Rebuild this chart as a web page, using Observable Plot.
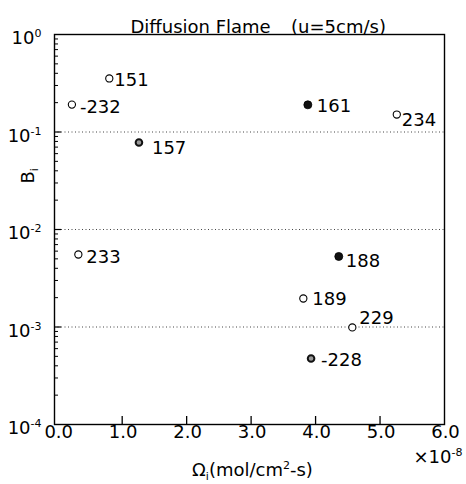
<!DOCTYPE html>
<html><head><meta charset="utf-8">
<script src="https://cdn.jsdelivr.net/npm/d3@7"></script>
<script src="https://cdn.jsdelivr.net/npm/@observablehq/plot@0.6"></script>
<style>body{margin:0;background:#fff}</style>
</head><body><div id="chart"></div>
<script>
// ---- data ----
const species    = ["151", "-232", "157", "161", "234", "233", "188", "189", "229", "-228"];
const omega      = [0.80, 0.22, 1.26, 3.88, 5.26, 0.32, 4.36, 3.81, 4.57, 3.93];       // ×10^-8 mol/cm2-s
const B          = [0.354, 0.191, 0.078, 0.19, 0.151, 0.00554, 0.00529, 0.00196, 0.00099, 0.000475];
const markerType = ["open", "open", "dotted", "filled", "open", "open", "filled", "open", "open", "dotted"];
const xTickValues = [0, 1, 2, 3, 4, 5, 6];
const xTickLabels = ["0.0", "1.0", "2.0", "3.0", "4.0", "5.0", "6.0"];
const yDecades    = [1e-4, 1e-3, 1e-2, 1e-1, 1];
const yTickLabels = ["10^{-4}", "10^{-3}", "10^{-2}", "10^{-1}", "10^{0}"];
// label nudges (style only)
const labelDx = [5, 8, 13, 9, 5, 8, 7, 9, 7, 10];
const labelDy = [2, 3, 6, 1, 6, 3, 5, 1, -9, 2];

const data = species.map((s, i) => ({s, x: omega[i], y: B[i], t: markerType[i], dx: labelDx[i], dy: labelDy[i]}));
const yMinor = [];
for (let k = 0; k < 4; k++) for (let m = 2; m <= 9; m++) yMinor.push(m * yDecades[k]);

const W = 466, H = 484, ML = 54, MR = 22, MT = 34, MB = 60;
const FW = W - ML - MR, FH = H - MT - MB;
const font = "DejaVu Sans, Verdana, sans-serif";
const FS = 18;

const plot = Plot.plot({
  width: W, height: H,
  marginLeft: ML, marginRight: MR, marginTop: MT, marginBottom: MB,
  style: {fontFamily: font, background: "white", color: "black"},
  x: {domain: [-0.05, 6], axis: null},
  y: {type: "log", domain: [1e-4, 1], axis: null},
  marks: [
    Plot.ruleY(yDecades.slice(1, 4), {stroke: "#444", strokeDasharray: "1,2.5", strokeWidth: 1}),
    Plot.tickX(xTickValues.slice(1, 6), {x: d => d, insetTop: FH - 8, stroke: "black", strokeWidth: 1.3}),
    Plot.tickY(yMinor, {y: d => d, insetRight: FW - 4, stroke: "black", strokeWidth: 1}),
    Plot.tickY(yDecades.slice(1, 4), {y: d => d, insetRight: FW - 7, stroke: "black", strokeWidth: 1.2}),
    Plot.frame({stroke: "black", strokeWidth: 1.4}),
    Plot.dot(data.filter(d => d.t === "open"), {x: "x", y: "y", r: 3.6, stroke: "black", strokeWidth: 1.1, fill: "white"}),
    Plot.dot(data.filter(d => d.t === "filled"), {x: "x", y: "y", r: 4, stroke: "black", strokeWidth: 0.8, fill: "#111"}),
    Plot.dot(data.filter(d => d.t === "dotted"), {x: "x", y: "y", r: 3.3, stroke: "#111", strokeWidth: 2, fill: "#999"}),
    ...data.map(d => Plot.text([d], {x: "x", y: "y", text: "s", dx: d.dx, dy: d.dy, textAnchor: "start", fontSize: FS, fill: "black"})),
    // x tick labels
    Plot.text(xTickValues, {x: d => d, text: (d, i) => xTickLabels[i], frameAnchor: "bottom", dx: 1, dy: 13, fontSize: FS, fill: "black"}),
    Plot.text(["\u00D710^{-8}"], {frameAnchor: "bottom-right", dx: 18, dy: 38, textAnchor: "end", fontSize: FS, fill: "black"}),
    // y tick labels
    Plot.text(yDecades, {y: d => d, text: (d, i) => yTickLabels[i], frameAnchor: "left", dx: -13, dy: 4, textAnchor: "end", fontSize: FS, fill: "black"}),
    // axis titles
    Plot.text(["\u03A9_{i}(mol/cm^{2}-s)"], {frameAnchor: "bottom", dx: 3, dy: 51, fontSize: FS, fill: "black"}),
    Plot.text(["B_{i}"], {frameAnchor: "top-left", dx: -33, dy: 149, rotate: -90, fontSize: FS, fill: "black"}),
    // title
    Plot.text(["Diffusion Flame"], {frameAnchor: "top-left", dx: 76, dy: -14, textAnchor: "start", fontSize: FS, fill: "black"}),
    Plot.text(["(u=5cm/s)"], {frameAnchor: "top-left", dx: 284, dy: -14, textAnchor: "middle", fontSize: FS, fill: "black"})
  ]
});

// rich text: ^{..} superscript, _{..} subscript
d3.select(plot).selectAll("text").each(function () {
  const s = this.textContent;
  if (!/[\^_]\{/.test(s)) return;
  const re = /([\^_])\{([^}]*)\}|([^\^_]+)/g;
  const el = d3.select(this);
  this.textContent = "";
  let m;
  while ((m = re.exec(s))) {
    if (m[3] !== undefined) el.append("tspan").text(m[3]);
    else if (m[1] === "^") el.append("tspan").attr("baseline-shift", "7px").style("font-size", "11px").text(m[2]);
    else el.append("tspan").attr("baseline-shift", "-4px").style("font-size", "11px").text(m[2]);
  }
});

document.getElementById("chart").appendChild(plot);
</script>
</body></html>
